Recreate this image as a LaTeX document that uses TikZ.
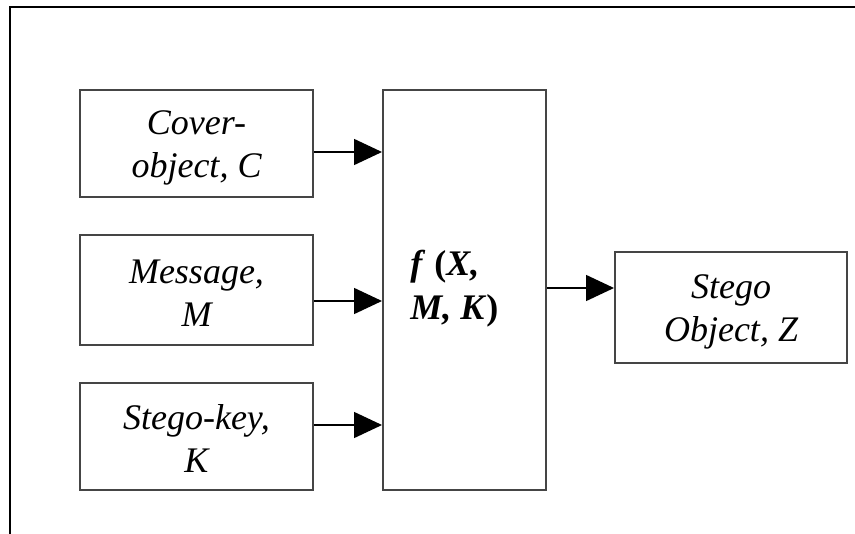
\documentclass[tikz,border=0pt]{standalone}
\usepackage{fontspec}
\setmainfont{Liberation Serif}
\usetikzlibrary{arrows.meta}
\definecolor{boxgray}{HTML}{454545}
\newcommand\myTop{\rule{0pt}{16pt}}
\newcommand\myBot{\rule[-1.5pt]{0pt}{1.5pt}}
\newcommand\myFTop{\rule{0pt}{13pt}}
\newcommand\myFBot{\rule[-6pt]{0pt}{6pt}}
\begin{document}
\begin{tikzpicture}[x=0.5pt,y=-0.5pt,
  box/.style={draw=boxgray, line width=1pt, inner sep=0pt, align=center,
    font=\fontsize{18}{21.5}\selectfont\itshape},
  arr/.style={draw=black, line width=0.75pt, -{Triangle[length=14pt,width=13pt]}},
  frameline/.style={draw=black, line width=1.2pt}]
\useasboundingbox[fill=white] (0,0) rectangle (855,534);
\draw[frameline] (10,534) -- (10,7) -- (855,7);
% input boxes
\node[box, minimum width=116.5pt, minimum height=53.5pt] (cover) at (196.5,143.5) {\myTop Cover-\\object, C\myBot};
\node[box, minimum width=116.5pt, minimum height=55pt] (msg) at (196.5,290) {\myTop Message,\\M\myBot};
\node[box, minimum width=116.5pt, minimum height=53.5pt] (key) at (196.5,436.5) {\myTop Stego-key,\\K\myBot};
% function box
\node[box, minimum width=81.5pt, minimum height=200pt] (f) at (464.5,290) {};
\node[anchor=west, inner sep=0pt, align=left, font=\fontsize{18}{22}\selectfont\bfseries\itshape]
  (ftext) at (410,290) {\myFTop f \textup{(}X,\\M, K\textup{)}\myFBot};
% output box
\node[box, minimum width=116pt, minimum height=55.5pt] (out) at (731,307.5) {\myTop Stego\\Object, Z\myBot};
% connectors
\coordinate (c1) at ([yshift=-4.25pt]cover.east);
\coordinate (c2) at ([yshift=-5.5pt]msg.east);
\coordinate (c3) at ([yshift=5.75pt]key.east);
\coordinate (c4) at ([yshift=1pt]f.east);
\draw[arr] (c1) -- (c1 -| f.west);
\draw[arr] (c2) -- (c2 -| f.west);
\draw[arr] (c3) -- (c3 -| f.west);
\draw[arr] (c4) -- (c4 -| out.west);
\end{tikzpicture}
\end{document}
